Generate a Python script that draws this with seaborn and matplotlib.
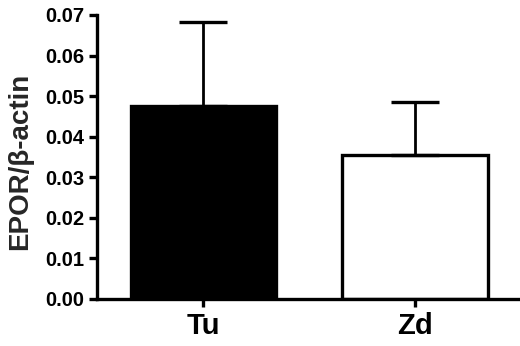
import matplotlib
matplotlib.use("Agg")
import matplotlib.pyplot as plt
import seaborn as sns
import pandas as pd

categories = ["Tu", "Zd"]
means = [0.0475, 0.0356]
errors = [0.0207, 0.0130]
bar_colors = ["black", "white"]
yticks = [0.00, 0.01, 0.02, 0.03, 0.04, 0.05, 0.06, 0.07]

sns.set_style("ticks")
plt.rcParams["font.family"] = ["Liberation Sans", "DejaVu Sans"]
plt.rcParams["font.weight"] = "bold"

df = pd.DataFrame({"group": categories, "value": means})

fig = plt.figure(figsize=(5.2, 3.46), dpi=100)
ax = fig.add_axes([97 / 520, 47 / 346, 423 / 520, 284 / 346])

sns.barplot(data=df, x="group", y="value", hue="group", palette=bar_colors,
            edgecolor="black", linewidth=2.4, width=0.685, legend=False,
            errorbar=None, ax=ax, zorder=2)

ax.errorbar(range(len(categories)), means,
            yerr=[[0] * len(errors), errors], fmt="none",
            ecolor="black", elinewidth=2.0, capsize=17.5, capthick=2.4, zorder=3)

ax.set_xlim(-0.502, 1.496)
ax.set_ylim(0, 0.07)
ax.set_yticks(yticks)
ax.set_yticklabels([f"{t:.2f}" for t in yticks], fontsize=14.5, fontweight="bold")
ax.set_xticks(range(len(categories)))
ax.set_xticklabels(categories, fontsize=21, fontweight="bold")
ax.set_xlabel("")
ax.set_ylabel("EPOR/β-actin", fontsize=20, fontweight="bold")
ax.yaxis.set_label_coords(-0.152, 0.484)

for s in ["top", "right"]:
    ax.spines[s].set_visible(False)
for s in ["left", "bottom"]:
    ax.spines[s].set_linewidth(2.4)
    ax.spines[s].set_color("black")
ax.tick_params(axis="both", direction="out", length=5.5, width=2.4, color="black", labelcolor="black")
ax.tick_params(axis="y", pad=3.5)
ax.tick_params(axis="x", pad=4)

fig.savefig("out.png", dpi=100)
